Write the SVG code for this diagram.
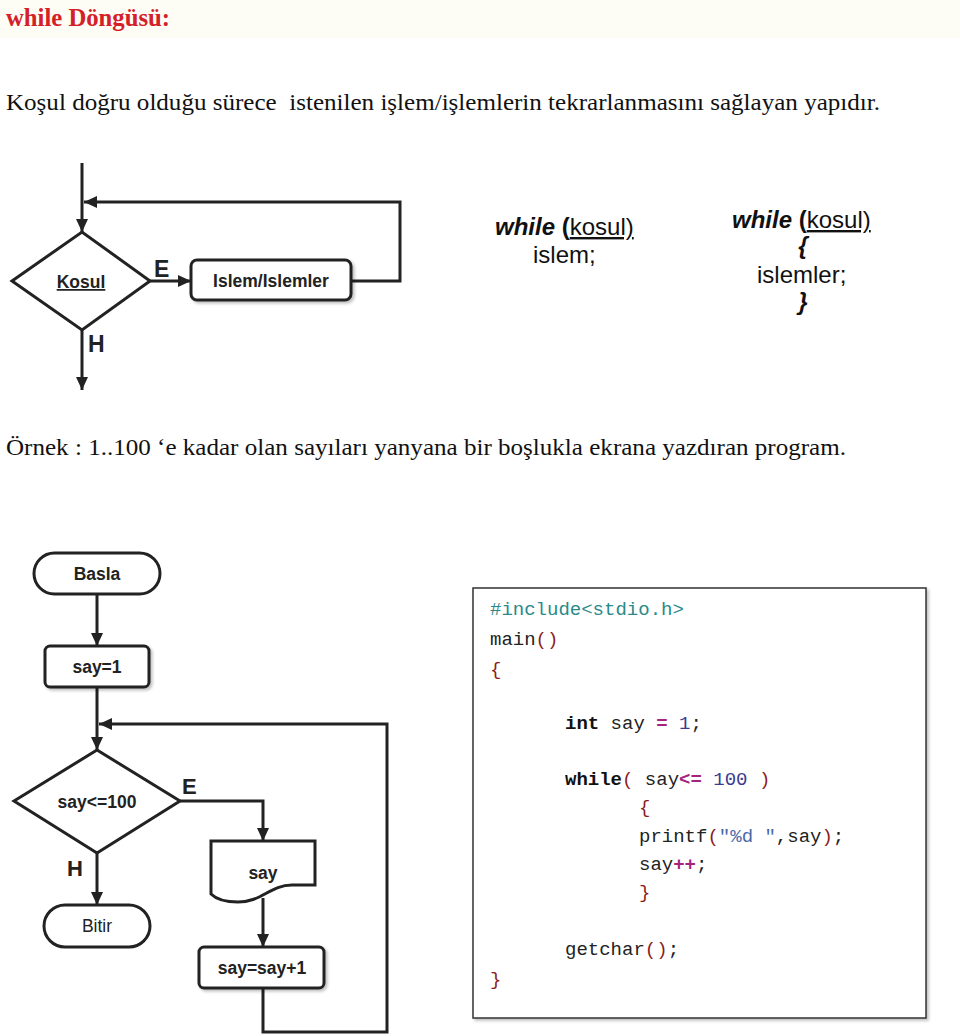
<svg xmlns="http://www.w3.org/2000/svg" width="960" height="1036" viewBox="0 0 960 1036">
<style>
.ln{fill:none;stroke:#222;stroke-width:3;stroke-linejoin:miter}
.shape{fill:#fff;stroke:#222;stroke-width:3}
.lbl{font-family:"Liberation Sans",Arial,sans-serif;font-weight:bold;font-size:17.5px;fill:#222;text-anchor:middle}
.big{font-family:"Liberation Sans",Arial,sans-serif;font-weight:bold;font-size:23px;fill:#222}
.ser{font-family:"Liberation Serif","Times New Roman",serif;font-size:23px;fill:#111}
.syn{font-family:"Liberation Sans",Arial,sans-serif;font-size:24px;fill:#111}
.code{font-family:"Liberation Mono","DejaVu Sans Mono",monospace;font-size:19px;fill:#222}
.inc{fill:#2a8a8a}.br{fill:#8b1c1c}.op{fill:#a3237d;font-weight:bold}.num{fill:#3b3b8f}.str{fill:#4a6aa8}.kw{font-weight:bold;fill:#111}
</style>
<defs>
<marker id="ah" markerUnits="userSpaceOnUse" markerWidth="14" markerHeight="12" refX="13" refY="6" orient="auto">
<path d="M0,0 L13,6 L0,12 Z" fill="#222"/>
</marker>
<filter id="sh" x="-10%" y="-10%" width="130%" height="140%">
<feDropShadow dx="2" dy="2" stdDeviation="1.5" flood-color="#000" flood-opacity="0.25"/>
</filter>
</defs>
<rect x="0" y="0" width="960" height="38" fill="#fefdf5"/>
<text x="6" y="26" font-family="Liberation Serif,Times New Roman,serif" font-weight="bold" font-size="26" fill="#d42027" textLength="164" lengthAdjust="spacingAndGlyphs">while Döngüsü:</text>
<text class="ser" x="6" y="110" textLength="874" lengthAdjust="spacingAndGlyphs" xml:space="preserve">Koşul doğru olduğu sürece  istenilen işlem/işlemlerin tekrarlanmasını sağlayan yapıdır.</text>
<text class="ser" x="6" y="455" textLength="840" lengthAdjust="spacingAndGlyphs">Örnek : 1..100 ‘e kadar olan sayıları yanyana bir boşlukla ekrana yazdıran program.</text>

<g id="connectors">
<line class="ln" x1="82" y1="163" x2="82" y2="232" marker-end="url(#ah)"/>
<polyline class="ln" points="351,281 400,281 400,202 84,202" marker-end="url(#ah)"/>
<line class="ln" x1="150" y1="281" x2="191" y2="281" marker-end="url(#ah)"/>
<line class="ln" x1="82" y1="330" x2="82" y2="390" marker-end="url(#ah)"/>
<line class="ln" x1="97" y1="594" x2="97" y2="646" marker-end="url(#ah)"/>
<line class="ln" x1="97" y1="687" x2="97" y2="750" marker-end="url(#ah)"/>
<polyline class="ln" points="263,988 263,1032 387,1032 387,724 99,724" marker-end="url(#ah)"/>
<polyline class="ln" points="180,801 263,801 263,841" marker-end="url(#ah)"/>
<line class="ln" x1="97" y1="853" x2="97" y2="905" marker-end="url(#ah)"/>
<line class="ln" x1="263" y1="898" x2="263" y2="947" marker-end="url(#ah)"/>
<text class="big" x="154" y="277">E</text>
<text class="big" x="88" y="352">H</text>
<text class="big" x="182" y="794" style="font-size:22px">E</text>
<text class="big" x="67" y="876" style="font-size:22px">H</text>
</g>

<g id="kosul">
<polygon class="shape" points="12,281 82,232 150,281 82,330"/>
<text class="lbl" x="81" y="288" text-decoration="underline">Kosul</text>
</g>
<g id="islem">
<rect class="shape" x="191" y="260" width="160" height="40" rx="6" filter="url(#sh)"/>
<text class="lbl" x="271" y="287">Islem/Islemler</text>
</g>

<g id="syntax1">
<text class="syn" x="495" y="235"><tspan font-weight="bold" font-style="italic">while</tspan> <tspan font-weight="bold">(</tspan><tspan text-decoration="underline">kosul)</tspan></text>
<text class="syn" x="533" y="263">islem;</text>
</g>
<g id="syntax2">
<text class="syn" x="732" y="228"><tspan font-weight="bold" font-style="italic">while</tspan> <tspan font-weight="bold">(</tspan><tspan text-decoration="underline">kosul)</tspan></text>
<text class="syn" x="803" y="254" font-weight="bold" font-style="italic" text-anchor="middle">{</text>
<text class="syn" x="757" y="283">islemler;</text>
<text class="syn" x="803" y="310" font-weight="bold" font-style="italic" text-anchor="middle">}</text>
</g>

<g id="basla">
<rect class="shape" x="34" y="553" width="126" height="41" rx="20.5"/>
<text class="lbl" x="97" y="580">Basla</text>
</g>
<g id="say1">
<rect class="shape" x="45" y="646" width="104" height="41" rx="5" filter="url(#sh)"/>
<text class="lbl" x="97" y="673">say=1</text>
</g>
<g id="kosul2">
<polygon class="shape" points="14,801 97,750 180,801 97,853"/>
<text class="lbl" x="97" y="808">say&lt;=100</text>
</g>
<g id="yaz">
<path class="shape" d="M211,841 H315 V885 H292 C270,885 262,902 238,902 C224,902 215,898 211,894 Z"/>
<text class="lbl" x="263" y="879">say</text>
</g>
<g id="bitir">
<rect class="shape" x="44" y="905" width="106" height="42" rx="21"/>
<text class="lbl" x="97" y="932" style="font-weight:normal">Bitir</text>
</g>
<g id="artir">
<rect class="shape" x="199" y="947" width="125" height="41" rx="5" filter="url(#sh)"/>
<text class="lbl" x="262" y="974">say=say+1</text>
</g>

<g id="code">
<rect x="473" y="588" width="453" height="430" fill="#fff" stroke="#333" stroke-width="1.5" filter="url(#sh)"/>
<text class="code" x="490" y="615"><tspan class="inc">#include&lt;stdio.h&gt;</tspan></text>
<text class="code" x="490" y="645">main<tspan class="br">()</tspan></text>
<text class="code" x="490" y="675"><tspan class="br">{</tspan></text>
<text class="code" x="565" y="729"><tspan class="kw">int</tspan> say <tspan class="op">=</tspan> <tspan class="num">1</tspan>;</text>
<text class="code" x="565" y="785"><tspan class="kw">while</tspan><tspan class="br">(</tspan> say<tspan class="op">&lt;=</tspan> <tspan class="num">100</tspan> <tspan class="br">)</tspan></text>
<text class="code" x="639" y="813"><tspan class="br">{</tspan></text>
<text class="code" x="639" y="842">printf<tspan class="br">(</tspan><tspan class="str">"%d "</tspan>,say<tspan class="br">)</tspan>;</text>
<text class="code" x="639" y="870">say<tspan class="op">++</tspan>;</text>
<text class="code" x="639" y="898"><tspan class="br">}</tspan></text>
<text class="code" x="565" y="955">getchar<tspan class="br">()</tspan>;</text>
<text class="code" x="490" y="985"><tspan class="br">}</tspan></text>
</g>
</svg>
